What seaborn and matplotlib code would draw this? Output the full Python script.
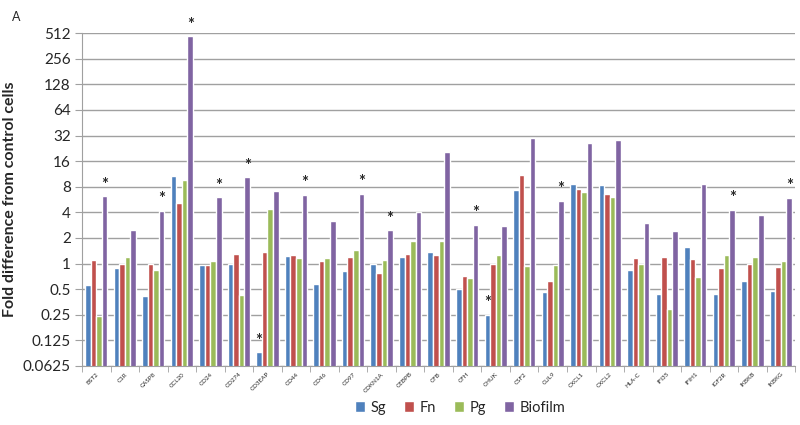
import numpy as np
import pandas as pd
import seaborn as sns
from matplotlib import pyplot as plt
from matplotlib.ticker import FixedLocator, FuncFormatter


genes = ['BST2', 'C1R', 'CASP8', 'CCL20', 'CD24', 'CD274', 'CD3EAP', 'CD44', 'CD46',
         'CD97', 'CDKN1A', 'CEBPB', 'CFB', 'CFH', 'CHUK', 'CSF2', 'CUL9', 'CXCL1',
         'CXCL2', 'HLA-C', 'IFI35', 'IFIH1', 'IGF2R', 'IKBKB', 'IKBKG']

sg = [0.56, 0.89, 0.41, 10.8, 0.97, 1.0, 0.091, 1.21, 0.58, 0.82, 0.99, 1.19, 1.38,
      0.5, 0.25, 7.4, 0.46, 8.5, 8.4, 0.85, 0.44, 1.58, 0.44, 0.62, 0.48]
fn = [1.09, 1.0, 1.0, 5.1, 0.97, 1.31, 1.36, 1.27, 1.07, 1.18, 0.78, 1.29, 1.25,
      0.72, 1.0, 11.1, 0.62, 7.6, 6.6, 1.15, 1.18, 1.13, 0.89, 1.0, 0.92]
pg = [0.24, 1.19, 0.83, 9.5, 1.08, 0.43, 4.4, 1.16, 1.16, 1.44, 1.09, 1.82, 1.85,
      0.68, 1.25, 0.93, 0.96, 6.9, 6.1, 0.99, 0.29, 0.69, 1.25, 1.19, 1.07]
biofilm = [6.2, 2.5, 4.2, 468, 6.0, 10.3, 7.1, 6.4, 3.2, 6.6, 2.47, 4.0, 20.5,
           2.85, 2.8, 29.6, 5.5, 26, 28, 3.0, 2.4, 8.5, 4.3, 3.7, 5.9]

# significance stars: (gene, series)
stars = [('BST2', 'Biofilm'), ('CASP8', 'Biofilm'), ('CCL20', 'Biofilm'), ('CD24', 'Biofilm'),
         ('CD274', 'Biofilm'), ('CD3EAP', 'Sg'), ('CD44', 'Biofilm'), ('CD97', 'Biofilm'),
         ('CDKN1A', 'Biofilm'), ('CFH', 'Biofilm'), ('CHUK', 'Sg'), ('CUL9', 'Biofilm'),
         ('IGF2R', 'Biofilm'), ('IKBKG', 'Biofilm')]

series = ['Sg', 'Fn', 'Pg', 'Biofilm']
colors = ['#4F81BD', '#C0504D', '#9BBB59', '#8064A2']
yticks = [0.0625, 0.125, 0.25, 0.5, 1, 2, 4, 8, 16, 32, 64, 128, 256, 512]

df = pd.DataFrame({'gene': genes, 'Sg': sg, 'Fn': fn, 'Pg': pg, 'Biofilm': biofilm})
df = df.melt(id_vars='gene', var_name='group', value_name='fold')

sns.set_style("white")
plt.rcParams['font.family'] = ['Lato', 'DejaVu Sans']

fig = plt.figure(figsize=(8, 4.25), dpi=100)
ax = fig.add_axes([0.1025, 0.139, 0.8915, 0.783])
sns.barplot(data=df, x='gene', y='fold', hue='group', hue_order=series,
            palette=colors, width=0.78, saturation=1, ax=ax, errorbar=None)

ax.set_yscale('log')
ax.set_ylim(0.0625, 512)
ax.yaxis.set_major_locator(FixedLocator(yticks))
ax.yaxis.set_major_formatter(FuncFormatter(lambda v, p: '%g' % v))
ax.yaxis.set_minor_locator(FixedLocator([]))
ax.set_xlim(-0.5, len(genes) - 0.5)
ax.grid(axis='y', color='#a0a0a0', linewidth=1)
ax.set_axisbelow(True)

for s in ['top', 'right']:
    ax.spines[s].set_visible(False)
for s in ['left', 'bottom']:
    ax.spines[s].set_color('#a0a0a0')

ax.tick_params(axis='y', which='major', direction='out', length=5, color='#a0a0a0',
               labelsize=11, left=True, pad=3)
ax.set_xticks(range(len(genes)))
ax.set_xticklabels(genes, rotation=45, ha='right', rotation_mode='anchor', fontsize=4.5)
ax.tick_params(axis='x', which='major', length=0, pad=4)
ax.set_xticks(np.arange(len(genes) + 1) - 0.5, minor=True)
ax.tick_params(axis='x', which='minor', direction='out', length=4, color='#a0a0a0',
               bottom=True)

ax.set_xlabel('')
ax.set_ylabel('Fold difference from control cells', fontsize=11.5, fontweight='bold')

# stars above the marked bars
for gene, grp in stars:
    patch = ax.containers[series.index(grp)][genes.index(gene)]
    xc = patch.get_x() + patch.get_width() / 2
    ax.text(xc, patch.get_height() * 1.1, '*', ha='center', va='bottom',
            fontsize=12, fontweight='bold')

fig.text(0.015, 0.975, 'A', fontsize=9, va='top')

sns.move_legend(ax, 'center', bbox_to_anchor=(0.53, -0.125), ncol=4, frameon=False,
                title=None, fontsize=10.5, handlelength=0.7, handleheight=0.7,
                handletextpad=0.4, columnspacing=1.2)

plt.savefig('out.png', dpi=100)
